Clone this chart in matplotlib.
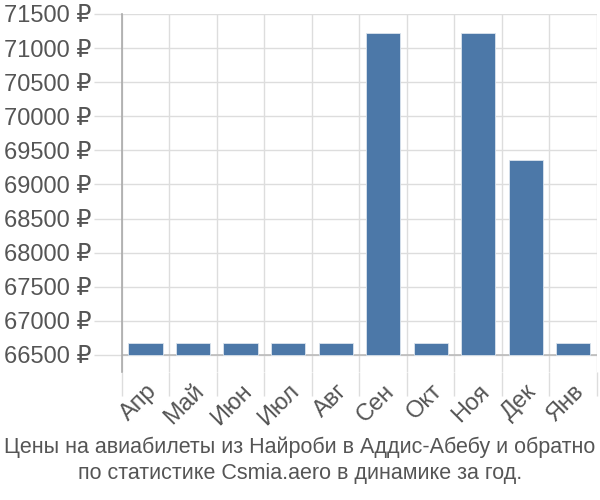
import matplotlib

matplotlib.use("Agg")
import matplotlib.pyplot as plt

months = ["Апр", "Май", "Июн", "Июл", "Авг", "Сен", "Окт", "Ноя", "Дек", "Янв"]
prices = [66670, 66670, 66670, 66670, 66670, 71215, 66670, 71215, 69360, 66670]
yticks = [66500, 67000, 67500, 68000, 68500, 69000, 69500, 70000, 70500, 71000, 71500]
title = ("Цены на авиабилеты из Найроби в Аддис-Абебу и обратно\n"
         "по статистике Csmia.aero в динамике за год.")

plt.rcParams["font.family"] = ["Liberation Sans", "DejaVu Sans"]

fig = plt.figure(figsize=(6, 5), dpi=100)
ax = fig.add_axes([0.203, 0.256, 0.792, 0.716])

x = list(range(len(months)))
ax.bar(x, [p - 66500 for p in prices], bottom=66500, width=0.72,
       color="#4C78A8", edgecolor="#dbe4ee", linewidth=0.6, zorder=3)

ax.set_xlim(-0.5, len(months) - 0.5)
ax.set_ylim(66250, 71500)
ax.set_yticks(yticks, [f"{v} ₽" for v in yticks])
ax.set_xticks(x, months, rotation=45, ha="right", rotation_mode="anchor")

# vertical grid sits between categories
ax.set_xticks([i - 0.5 for i in range(len(months) + 1)], minor=True)
ax.grid(True, which="minor", axis="x", color="#dddddd", linewidth=1, zorder=0)
ax.grid(True, which="major", axis="y", color="#dddddd", linewidth=1, zorder=0)
ax.tick_params(axis="x", which="major", length=0, labelsize=17, colors="#555555", pad=6)
ax.tick_params(axis="x", which="minor", length=17, color="#dddddd", width=1)
ax.tick_params(axis="y", length=20, color="#dddddd", width=1, labelsize=17,
               colors="#555555", pad=2)
ax.axhline(66500, color="#bbbbbb", linewidth=1.2, zorder=2)

for s in ("top", "right", "bottom"):
    ax.spines[s].set_visible(False)
ax.spines["left"].set_color("#aaaaaa")
ax.spines["left"].set_linewidth(1.2)

fig.text(0.5, 0.08, title, ha="center", va="center", fontsize=15.5,
         color="#555555", linespacing=1.3)

fig.savefig("out.png", dpi=100)
